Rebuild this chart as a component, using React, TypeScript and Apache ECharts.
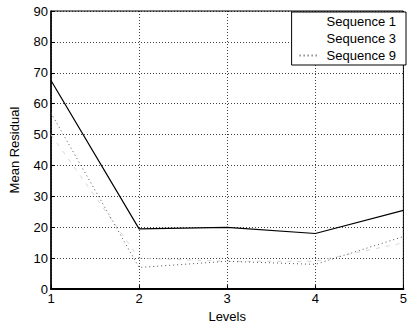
import React, { useEffect, useRef } from "react";
import * as echarts from "echarts";

const levels = [1, 2, 3, 4, 5];
const seq1 = [67.5, 19.5, 20, 18, 25.5];
const seq3 = [50, 10, 9, 9, 15];
const seq9 = [57, 7, 9, 8, 17];
const seriesNames = ["Sequence 1", "Sequence 3", "Sequence 9"];
const yTicks = { min: 0, max: 90, interval: 10 };

const FONT = "Liberation Sans, Arial, Helvetica, sans-serif";

export default function App() {
  const ref = useRef<HTMLDivElement>(null);
  useEffect(() => {
    if (!ref.current) return;
    const chart = echarts.init(ref.current, undefined, { renderer: "svg" });
    const pair = (ys: number[]) => levels.map((x, i) => [x, ys[i]]);
    const grid = { show: true, lineStyle: { color: "#000", type: [1, 2], width: 1, opacity: 0.75 } };
    chart.setOption({
      animation: false,
      backgroundColor: "#fff",
      grid: {
        left: 45,
        right: 2,
        top: 11,
        bottom: 29,
        show: true,
        borderColor: "#000",
        borderWidth: 1,
      },
      legend: {
        orient: "vertical",
        right: 4,
        top: 12,
        backgroundColor: "#fff",
        borderColor: "#000",
        borderWidth: 1,
        borderRadius: 0,
        padding: [3, 10, 3, 7],
        itemGap: 4,
        itemWidth: 20,
        itemHeight: 10,
        textStyle: { fontFamily: FONT, fontSize: 13, color: "#000", padding: [0, 0, 0, 2] },
        data: [
          { name: seriesNames[0], icon: "none" },
          { name: seriesNames[1], icon: "none" },
          { name: seriesNames[2], itemStyle: { opacity: 0 } },
        ],
      },
      xAxis: {
        type: "value",
        min: 1,
        max: 5,
        interval: 1,
        name: "Levels",
        nameLocation: "middle",
        nameGap: 17,
        nameTextStyle: { fontFamily: FONT, fontSize: 13, color: "#000" },
        axisLine: { show: true, lineStyle: { color: "#000", width: 2 } },
        axisTick: { show: true, inside: true, length: 4, lineStyle: { color: "#000" } },
        axisLabel: { fontFamily: FONT, fontSize: 13, color: "#000", margin: 3 },
        splitLine: grid,
      },
      yAxis: {
        type: "value",
        min: yTicks.min,
        max: yTicks.max,
        interval: yTicks.interval,
        name: "Mean Residual",
        nameLocation: "middle",
        nameGap: 30,
        nameTextStyle: { fontFamily: FONT, fontSize: 13, color: "#000" },
        axisLine: { show: true, lineStyle: { color: "#000", width: 1.5 } },
        axisTick: { show: true, inside: true, length: 4, lineStyle: { color: "#000" } },
        axisLabel: { fontFamily: FONT, fontSize: 13, color: "#000", margin: 3 },
        splitLine: grid,
      },
      series: [
        {
          name: seriesNames[0],
          type: "line",
          data: pair(seq1),
          symbol: "none",
          lineStyle: { color: "#000", width: 1.2, type: "solid" },
          itemStyle: { color: "#000" },
        },
        {
          name: seriesNames[1],
          type: "line",
          data: pair(seq3),
          symbol: "none",
          lineStyle: { color: "#ccc", width: 0.8, type: [4, 6] },
          itemStyle: { color: "#ccc" },
        },
        {
          name: seriesNames[2],
          type: "line",
          data: pair(seq9),
          symbol: "none",
          lineStyle: { color: "#555", width: 1, type: [1, 3] },
          itemStyle: { color: "#555" },
        },
      ],
    });
    return () => chart.dispose();
  }, []);
  return <div ref={ref} style={{ width: 410, height: 328, position: "absolute", left: 0, top: 0 }} />;
}
